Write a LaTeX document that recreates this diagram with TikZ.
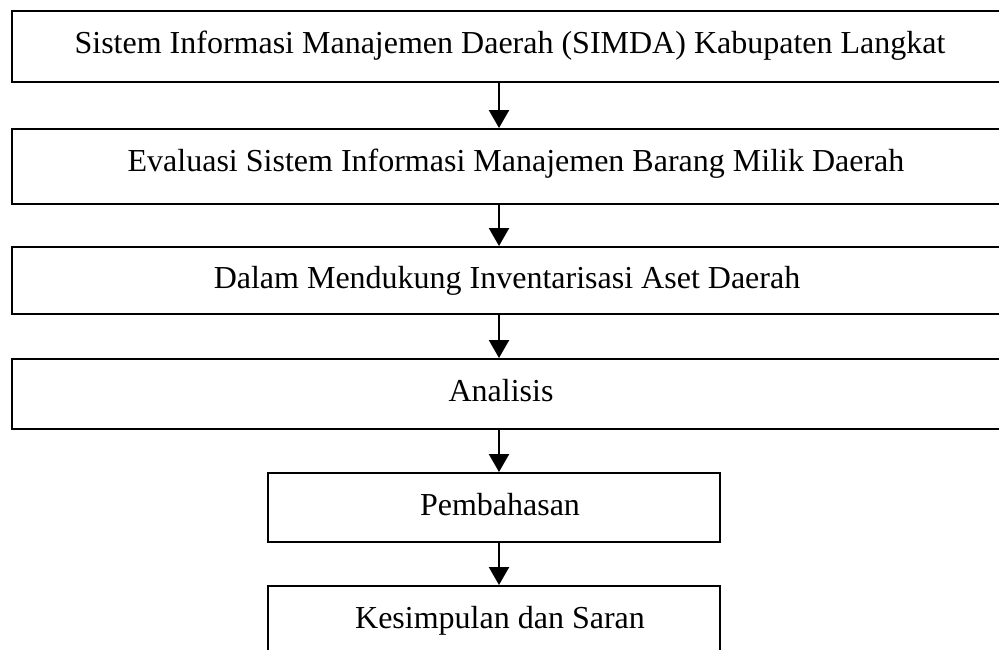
\documentclass[tikz,border=0pt]{standalone}
\usepackage{fontspec}
\setmainfont{Liberation Serif}
\usetikzlibrary{arrows.meta}
\begin{document}
\begin{tikzpicture}[x=1pt,y=-1pt,
  box/.style={draw=black,line width=2pt,fill=none},
  lbl/.style={anchor=base,inner sep=0pt,font=\fontsize{32}{38}\selectfont},
  conn/.style={line width=2.4pt,-{Triangle[width=20pt,length=18pt]}}]
\useasboundingbox (0,0) rectangle (999,649);
\clip (0,0) rectangle (999,649);
\fill[white] (0,0) rectangle (999,649);
% boxes
\node[box,anchor=north west,minimum width=1000pt,minimum height=71pt,inner sep=0pt] (b1) at (11,10) {};
\node[box,anchor=north west,minimum width=1000pt,minimum height=75pt,inner sep=0pt] (b2) at (11,128) {};
\node[box,anchor=north west,minimum width=1000pt,minimum height=67pt,inner sep=0pt] (b3) at (11,246) {};
\node[box,anchor=north west,minimum width=1000pt,minimum height=70pt,inner sep=0pt] (b4) at (11,358) {};
\node[box,anchor=north west,minimum width=452pt,minimum height=69pt,inner sep=0pt] (b5) at (267,472) {};
\node[box,anchor=north west,minimum width=452pt,minimum height=90pt,inner sep=0pt] (b6) at (267,585) {};
% texts
\node[lbl] (t1) at (510,53) {Sistem Informasi Manajemen Daerah (SIMDA) Kabupaten Langkat};
\node[lbl] (t2) at (516,171) {Evaluasi Sistem Informasi Manajemen Barang Milik Daerah};
\node[lbl] (t3) at (507,288) {Dalam Mendukung Inventarisasi Aset Daerah};
\node[lbl] (t4) at (501,401) {Analisis};
\node[lbl] (t5) at (500,515) {Pembahasan};
\node[lbl] (t6) at (500,628) {Kesimpulan dan Saran};
% connectors
\coordinate (col) at (499,0);
\draw[conn] (b1.south -| col) -- (b2.north -| col);
\draw[conn] (b2.south -| col) -- (b3.north -| col);
\draw[conn] (b3.south -| col) -- (b4.north -| col);
\draw[conn] (b4.south -| col) -- (b5.north -| col);
\draw[conn] (b5.south -| col) -- (b6.north -| col);
\end{tikzpicture}
\end{document}
